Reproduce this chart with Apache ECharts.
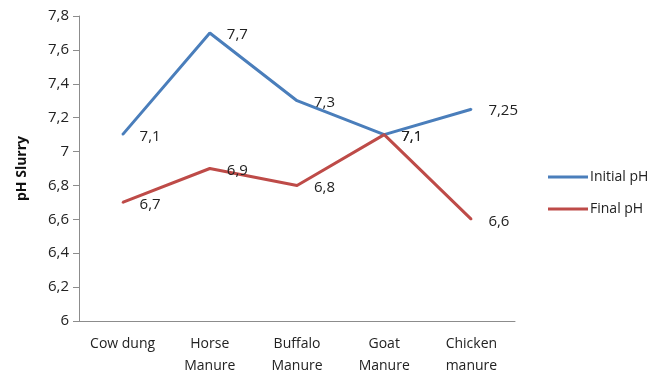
<!DOCTYPE html>
<html>
<head>
<meta charset="utf-8">
<script src="https://cdn.jsdelivr.net/npm/echarts@6/dist/echarts.min.js"></script>
<style>
html,body{margin:0;padding:0;background:#fff;}
#chart{width:671px;height:376px;}
</style>
</head>
<body>
<div id="chart"></div>
<script>
// pH of the slurry before and after digestion
const categories = ["Cow dung", "Horse\nManure", "Buffalo\nManure", "Goat\nManure", "Chicken\nmanure"];
const initialPh = [7.1, 7.7, 7.3, 7.1, 7.25];
const finalPh = [6.7, 6.9, 6.8, 7.1, 6.6];

const fontName = "Open Sans";

function comma(v) {
    return String(v).replace(".", ",");
}

const chart = echarts.init(document.getElementById("chart"));

const labelStyle = {
    show: true,
    position: "right",
    distance: 16,
    offset: [0, 2],
    color: "#222",
    fontFamily: fontName,
    fontSize: 15,
    formatter: p => comma(p.value)
};

chart.setOption({
    animation: false,
    textStyle: { fontFamily: fontName },
    grid: { left: 79, right: 156, top: 16, bottom: 55, containLabel: false, outerBoundsMode: "none" },
    legend: {
        orient: "vertical",
        left: 543,
        top: 165,
        itemGap: 18,
        itemWidth: 40,
        itemHeight: 3,
        icon: "rect",
        textStyle: { fontFamily: fontName, fontSize: 14, color: "#222", padding: [0, 0, 0, -3] },
        data: [
            { name: "Initial pH", itemStyle: { color: "#4a7ebb" } },
            { name: "Final pH", itemStyle: { color: "#be4b48" } }
        ]
    },
    xAxis: {
        type: "category",
        data: categories,
        boundaryGap: true,
        axisLine: { lineStyle: { color: "#8c8c8c" } },
        axisTick: { show: false },
        axisLabel: {
            color: "#222",
            fontFamily: fontName,
            fontSize: 14,
            margin: 12,
            lineHeight: 22,
            interval: 0
        }
    },
    yAxis: {
        type: "value",
        min: 6,
        max: 7.8,
        interval: 0.2,
        name: "pH Slurry",
        nameLocation: "middle",
        nameGap: 50,
        nameTextStyle: { fontFamily: fontName, fontSize: 14, fontWeight: "bold", color: "#111" },
        axisLine: { show: true, lineStyle: { color: "#8c8c8c" } },
        axisTick: { show: true, length: 6, lineStyle: { color: "#8c8c8c" } },
        splitLine: { show: false },
        axisLabel: {
            color: "#222",
            fontFamily: fontName,
            fontSize: 15,
            margin: 10,
            formatter: v => comma(Math.round(v * 10) / 10)
        }
    },
    series: [
        {
            name: "Initial pH",
            type: "line",
            data: initialPh,
            symbol: "circle",
            symbolSize: 2,
            showSymbol: true,
            lineStyle: { color: "#4a7ebb", width: 3 },
            itemStyle: { color: "#4a7ebb" },
            label: labelStyle
        },
        {
            name: "Final pH",
            type: "line",
            data: finalPh,
            symbol: "circle",
            symbolSize: 2,
            showSymbol: true,
            lineStyle: { color: "#be4b48", width: 3 },
            itemStyle: { color: "#be4b48" },
            label: labelStyle
        }
    ]
});
</script>
</body>
</html>
